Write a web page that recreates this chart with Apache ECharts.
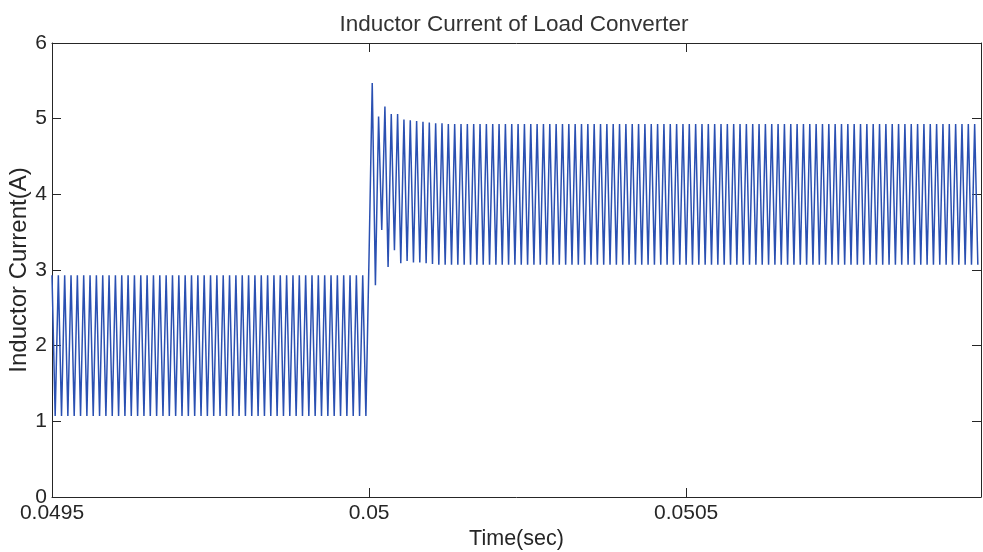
<!DOCTYPE html>
<html>
<head>
<meta charset="utf-8">
<title>Inductor Current of Load Converter</title>
<script src="https://cdn.jsdelivr.net/npm/echarts@6/dist/echarts.min.js"></script>
<style>
    html, body { margin: 0; padding: 0; background: #fff; }
    #dataChart { width: 983px; height: 552px; }
</style>
</head>
<body>
<div id="dataChart"></div>
<script>
// vertex samples of the inductor current, one every half switching period
var tStart = 0.0495;
var halfPeriod = 0.000005;
var xTicks = [0.0495, 0.05, 0.0505];

// before the load step (peak, valley, ...)
var currentBefore = [
    2.93, 1.07, 2.93, 1.07, 2.93, 1.07, 2.93, 1.07, 2.93, 1.07, 2.93, 1.07, 2.93, 1.07, 2.93, 1.07, 2.93, 1.07, 2.93, 1.07,
    2.93, 1.07, 2.93, 1.07, 2.93, 1.07, 2.93, 1.07, 2.93, 1.07, 2.93, 1.07, 2.93, 1.07, 2.93, 1.07, 2.93, 1.07, 2.93, 1.07,
    2.93, 1.07, 2.93, 1.07, 2.93, 1.07, 2.93, 1.07, 2.93, 1.07, 2.93, 1.07, 2.93, 1.07, 2.93, 1.07, 2.93, 1.07, 2.93, 1.07,
    2.93, 1.07, 2.93, 1.07, 2.93, 1.07, 2.93, 1.07, 2.93, 1.07, 2.93, 1.07, 2.93, 1.07, 2.93, 1.07, 2.93, 1.07, 2.93, 1.07,
    2.93, 1.07, 2.93, 1.07, 2.93, 1.07, 2.93, 1.07, 2.93, 1.07, 2.93, 1.07, 2.93, 1.07, 2.93, 1.07, 2.93, 1.07, 2.93, 1.07
];
// transient right after the step at 0.05 s
var currentStep = [
    3.2, 5.47, 2.80, 5.03, 3.53, 5.16, 3.04, 5.06, 3.26, 5.06, 3.09, 4.99,
    3.12, 4.98, 3.10, 4.97, 3.10, 4.96, 3.09, 4.95, 3.08, 4.94, 3.07, 4.94
];
// settled (valley, peak, ...)
var currentAfter = [
    3.07, 4.93, 3.07, 4.93, 3.07, 4.93, 3.07, 4.93, 3.07, 4.93, 3.07, 4.93, 3.07, 4.93, 3.07, 4.93, 3.07, 4.93, 3.07, 4.93,
    3.07, 4.93, 3.07, 4.93, 3.07, 4.93, 3.07, 4.93, 3.07, 4.93, 3.07, 4.93, 3.07, 4.93, 3.07, 4.93, 3.07, 4.93, 3.07, 4.93,
    3.07, 4.93, 3.07, 4.93, 3.07, 4.93, 3.07, 4.93, 3.07, 4.93, 3.07, 4.93, 3.07, 4.93, 3.07, 4.93, 3.07, 4.93, 3.07, 4.93,
    3.07, 4.93, 3.07, 4.93, 3.07, 4.93, 3.07, 4.93, 3.07, 4.93, 3.07, 4.93, 3.07, 4.93, 3.07, 4.93, 3.07, 4.93, 3.07, 4.93,
    3.07, 4.93, 3.07, 4.93, 3.07, 4.93, 3.07, 4.93, 3.07, 4.93, 3.07, 4.93, 3.07, 4.93, 3.07, 4.93, 3.07, 4.93, 3.07, 4.93,
    3.07, 4.93, 3.07, 4.93, 3.07, 4.93, 3.07, 4.93, 3.07, 4.93, 3.07, 4.93, 3.07, 4.93, 3.07, 4.93, 3.07, 4.93, 3.07, 4.93,
    3.07, 4.93, 3.07, 4.93, 3.07, 4.93, 3.07, 4.93, 3.07, 4.93, 3.07, 4.93, 3.07, 4.93, 3.07, 4.93, 3.07, 4.93, 3.07, 4.93,
    3.07, 4.93, 3.07, 4.93, 3.07, 4.93, 3.07, 4.93, 3.07, 4.93, 3.07, 4.93, 3.07, 4.93, 3.07, 4.93, 3.07, 4.93, 3.07, 4.93,
    3.07, 4.93, 3.07, 4.93, 3.07, 4.93, 3.07, 4.93,
    3.07
];

(function() {
    var font = "'Liberation Sans', Arial, Helvetica, sans-serif";
    var ink = '#262626';

    var values = currentBefore.concat(currentStep, currentAfter);
    var points = [];
    for (var k = 0; k < values.length; k++) {
        points.push([tStart + k * halfPeriod, values[k]]);
    }

    // matlab style box: ticks inside on all four sides
    var boxAxis = {
        axisLine: { show: true, onZero: false, lineStyle: { color: ink, width: 1 } },
        axisTick: { show: true, inside: true, length: 9, lineStyle: { color: ink } },
        splitLine: { show: false }
    };

    var myChart = echarts.init(document.getElementById('dataChart'), null, { renderer: 'canvas' });
    myChart.setOption({
        animation: false,
        backgroundColor: '#fff',
        title: {
            text: 'Inductor Current of Load Converter',
            left: 509, top: 8, textAlign: 'center',
            textStyle: { fontFamily: font, fontSize: 22.5, fontWeight: 'normal', color: '#333' }
        },
        grid: { left: 52, right: 2, top: 43, bottom: 55, outerBoundsMode: 'none', containLabel: false },
        xAxis: [
            echarts.util.merge({
                type: 'value', position: 'bottom',
                min: 0.0495, max: 0.050965,
                name: 'Time(sec)', nameLocation: 'middle', nameGap: 31, nameMoveOverlap: false,
                nameTextStyle: { fontFamily: font, fontSize: 21.5, color: ink },
                axisTick: { customValues: xTicks },
                axisLabel: { customValues: xTicks, margin: 6, fontFamily: font, fontSize: 21, color: ink }
            }, boxAxis, false),
            echarts.util.merge({
                type: 'value', position: 'top',
                min: 0.0495, max: 0.050965,
                axisTick: { customValues: xTicks },
                axisLabel: { show: false }
            }, boxAxis, false)
        ],
        yAxis: [
            echarts.util.merge({
                type: 'value', position: 'left',
                min: 0, max: 6, interval: 1,
                name: 'Inductor Current(A)', nameLocation: 'middle', nameGap: 21, nameMoveOverlap: false,
                nameTextStyle: { fontFamily: font, fontSize: 24, color: ink },
                axisLabel: { margin: 5, fontFamily: font, fontSize: 21, color: ink }
            }, boxAxis, false),
            echarts.util.merge({
                type: 'value', position: 'right',
                min: 0, max: 6, interval: 1,
                axisLabel: { show: false }
            }, boxAxis, false)
        ],
        series: [{
            type: 'line',
            data: points,
            showSymbol: false,
            symbol: 'none',
            sampling: null,
            lineStyle: { color: '#2a50b2', width: 1.5 }
        }]
    });
})();
</script>
</body>
</html>
